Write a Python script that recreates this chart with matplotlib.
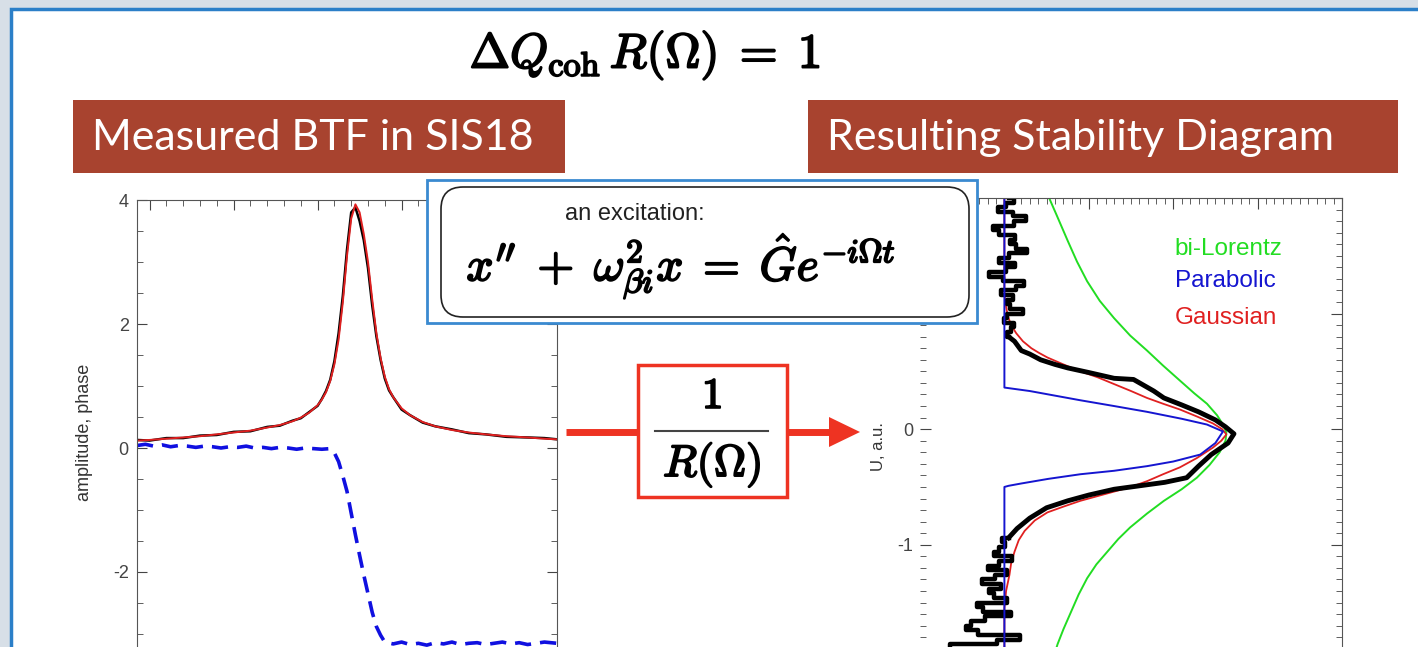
import matplotlib
matplotlib.use("Agg")
import matplotlib.pyplot as plt
import matplotlib.patheffects as pe
from matplotlib.patches import Rectangle, FancyBboxPatch, Polygon
from matplotlib.ticker import MultipleLocator

plt.rcParams['mathtext.fontset'] = 'cm'
plt.rcParams['font.family'] = ['Liberation Sans', 'DejaVu Sans']
plt.rcParams['axes.unicode_minus'] = False

# ---- left panel: measured BTF (amplitude + phase) ----
amp_x = [-3, 0, 4, 8, 12, 16, 20, 24, 28, 31, 34, 36, 38, 40, 41, 42, 43, 44, 45, 46,
         47, 48, 49, 50, 51, 52, 53, 54, 55, 56, 57, 58, 60, 62, 65, 68, 72, 76, 80, 85,
         90, 94, 97]
amp_fit = [0.12, 0.13, 0.15, 0.17, 0.19, 0.22, 0.25, 0.28, 0.33, 0.37, 0.43, 0.49, 0.57, 0.69,
           0.78, 0.9, 1.08, 1.35, 1.75, 2.35, 3.1, 3.7, 3.93, 3.8, 3.45, 3.0, 2.4, 1.85, 1.45,
           1.15, 0.95, 0.82, 0.64, 0.53, 0.42, 0.35, 0.29, 0.25, 0.22, 0.19, 0.17, 0.15, 0.14]
amp_meas = [0.13, 0.12, 0.16, 0.16, 0.2, 0.21, 0.26, 0.27, 0.34, 0.36, 0.44, 0.48, 0.58, 0.68,
            0.79, 0.92, 1.1, 1.4, 1.85, 2.45, 3.2, 3.8, 3.88, 3.66, 3.35, 2.9, 2.3, 1.8, 1.42,
            1.12, 0.93, 0.82, 0.62, 0.53, 0.41, 0.35, 0.3, 0.24, 0.22, 0.18, 0.17, 0.16, 0.14]
ph_x = [-3, -1, 1, 3, 5, 7, 9, 11, 13, 15, 17, 19, 21, 23, 25, 27, 29, 31, 33, 35,
        37, 39, 41, 43, 44, 45, 46, 47, 48, 49, 50, 51, 52, 53, 54, 55, 56, 58, 60, 62,
        64, 66, 68, 70, 72, 74, 76, 78, 80, 82, 84, 86, 88, 90, 92, 94, 97]
ph_y = [0.04, 0.06, 0.03, 0.05, 0.02, 0.04, 0.03, 0.01, 0.03, 0.02, 0.0, 0.02, 0.01, 0.03,
        0.0, 0.01, -0.01, 0.01, 0.0, -0.02, 0.0, -0.01, -0.02, -0.01, -0.08, -0.22, -0.45,
        -0.7, -1.05, -1.4, -1.73, -2.05, -2.35, -2.65, -2.88, -3.02, -3.13, -3.16, -3.13,
        -3.17, -3.15, -3.18, -3.14, -3.16, -3.13, -3.17, -3.15, -3.14, -3.17, -3.15, -3.13,
        -3.16, -3.14, -3.17, -3.15, -3.13, -3.15]

# ---- right panel: stability diagram ----
par_x = [0, 0, 0.05, 0.3, 0.9, 1.3, 1.69, 2.1, 2.4, 2.59, 2.5, 2.32, 2.0, 1.69, 1.3, 0.9,
         0.52, 0.2, 0.05, 0, 0]
par_y = [2.0, 0.36, 0.355, 0.33, 0.25, 0.2, 0.15, 0.09, 0.04, -0.02, -0.12, -0.22, -0.28,
         -0.32, -0.36, -0.39, -0.43, -0.47, -0.49, -0.5, -2.3]
gau_x = [0, 0, 0.01, 0.04, 0.08, 0.14, 0.22, 0.32, 0.41, 0.51, 0.7, 0.9, 1.1, 1.3, 1.5, 1.69,
         1.88, 2.08, 2.28, 2.47, 2.58, 2.63, 2.57, 2.47, 2.28, 2.08, 1.88, 1.69, 1.5, 1.3, 1.1,
         0.9, 0.7, 0.51, 0.36, 0.24, 0.17, 0.12, 0.08, 0.06, 0.04, 0.02, 0.01, 0, 0]
gau_y = [2.0, 1.2, 1.1, 0.98, 0.9, 0.83, 0.76, 0.70, 0.66, 0.62, 0.56, 0.50, 0.45, 0.39, 0.33,
         0.27, 0.22, 0.17, 0.11, 0.05, 0.0, -0.045, -0.1, -0.16, -0.25, -0.33, -0.39, -0.45,
         -0.5, -0.54, -0.58, -0.62, -0.67, -0.72, -0.79, -0.88, -0.96, -1.06, -1.16, -1.26,
         -1.33, -1.4, -1.48, -1.55, -2.3]
lor_x = [0.53, 0.62, 0.75, 0.86, 0.98, 1.13, 1.3, 1.49, 1.69, 1.88, 2.08, 2.25, 2.4, 2.52, 2.59,
         2.63, 2.62, 2.55, 2.43, 2.28, 2.1, 1.89, 1.69, 1.49, 1.35, 1.22, 1.09, 0.98, 0.88, 0.79,
         0.7, 0.63, 0.57, 0.53]
lor_y = [2.0, 1.85, 1.63, 1.45, 1.28, 1.11, 0.96, 0.81, 0.68, 0.55, 0.42, 0.31, 0.22, 0.12, 0.04,
         -0.03, -0.1, -0.2, -0.31, -0.42, -0.52, -0.62, -0.73, -0.85, -0.95, -1.06, -1.17, -1.29,
         -1.43, -1.58, -1.73, -1.86, -2.0, -2.1]
# measured stability diagram: noisy top tail, smooth core, noisy bottom tail
top_x = [0.05, 0.18, -0.15, 0.0, 0.2, 0.3, -0.08, -0.2, 0.08, 0.18, -0.05, 0.32, 0.22, -0.12,
         0.0, 0.25, -0.22, -0.15, 0.12, 0.35, -0.08, 0.0, 0.2, -0.15, 0.28, 0.15, -0.08, 0.08,
         0.15, 0.0, 0.05]
top_y = [2.0, 1.96, 1.92, 1.88, 1.84, 1.8, 1.76, 1.72, 1.68, 1.64, 1.6, 1.56, 1.52, 1.48,
         1.44, 1.4, 1.36, 1.32, 1.28, 1.24, 1.2, 1.16, 1.12, 1.08, 1.04, 1.0, 0.96, 0.92,
         0.88, 0.84, 0.8]
core_x = [0.05, 0.12, 0.2, 0.3, 0.43, 0.6, 0.75, 1.0, 1.3, 1.53, 1.77, 1.89, 2.1, 2.3, 2.5,
          2.62, 2.72, 2.65, 2.45, 2.3, 2.16, 1.9, 1.6, 1.3, 1.0, 0.75, 0.5, 0.3, 0.15, 0.05]
core_y = [0.8, 0.76, 0.68, 0.65, 0.6, 0.56, 0.53, 0.49, 0.44, 0.43, 0.33, 0.27, 0.21, 0.15,
          0.08, 0.02, -0.04, -0.12, -0.22, -0.32, -0.42, -0.46, -0.49, -0.52, -0.57, -0.62,
          -0.68, -0.77, -0.86, -0.94]
bot_x = [0.05, -0.1, 0.12, -0.25, 0.0, 0.18, -0.3, -0.08, 0.15, -0.38, -0.15, 0.08, -0.45,
         0.2, -0.15, -0.5, 0.0, 0.15, -0.6, -0.2, -0.7, 0.08, 0.28, -0.45, -0.85, -0.15, 0.22,
         -0.6, -0.95, 0.15, -0.3, 0.28, -0.5, 0.0]
bot_y = [-0.94, -0.98, -1.02, -1.06, -1.1, -1.14, -1.18, -1.22, -1.26, -1.3, -1.34, -1.38,
         -1.42, -1.46, -1.5, -1.54, -1.58, -1.62, -1.66, -1.7, -1.74, -1.78, -1.82, -1.86,
         -1.9, -1.94, -1.98, -2.02, -2.06, -2.1, -2.14, -2.18, -2.22, -2.26]
curve_labels = ['bi-Lorentz', 'Parabolic', 'Gaussian']

W, H = 1418, 647
fig = plt.figure(figsize=(W / 100, H / 100), dpi=100)
fig.patch.set_facecolor('#d7dfe7')


def fbox(l, t, r, b):
    return [l / W, 1 - b / H, (r - l) / W, (b - t) / H]


bg = fig.add_axes([0, 0, 1, 1], zorder=0)
bg.set_xlim(0, W)
bg.set_ylim(H, 0)
bg.axis('off')
bg.add_patch(Rectangle((11, 9), W, H, facecolor='white', edgecolor='#2b7fc8', lw=2.5))

# left axes
axL = fig.add_axes(fbox(137, 200, 557, 665), zorder=1)
axL.set_facecolor('none')
axL.plot(amp_x, amp_meas, color='black', lw=1.8)
axL.plot(amp_x, amp_fit, color='#e02020', lw=1.4)
axL.plot(ph_x, ph_y, color='#1010e0', lw=2.6, dashes=(4.5, 2.5))
axL.set_xlim(-3, 97)
axL.set_ylim(-3.5, 4.0)
axL.set_yticks([-2, 0, 2, 4])
axL.set_yticklabels(['-2', '0', '2', '4'])
axL.xaxis.set_major_locator(MultipleLocator(20))
axL.xaxis.set_minor_locator(MultipleLocator(4))
axL.yaxis.set_minor_locator(MultipleLocator(0.5))
axL.tick_params(which='both', direction='in', top=True, right=True, bottom=False,
                labelbottom=False, colors='#444444', labelsize=13, pad=6)
axL.tick_params(which='major', length=7)
axL.tick_params(which='minor', length=4)
axL.spines['bottom'].set_visible(False)
for s in axL.spines.values():
    s.set_color('#555555')
axL.set_ylabel('amplitude, phase', fontsize=13, color='#333333', labelpad=14)

# right axes
axR = fig.add_axes(fbox(920, 198, 1342, 695), zorder=1)
axR.set_facecolor('none')
axR.plot(lor_x, lor_y, color='#22dd22', lw=1.4)
axR.plot(gau_x, gau_y, color='#e02020', lw=1.3)
axR.plot(top_x, top_y, color='black', lw=3.2, drawstyle='steps-mid')
axR.plot(core_x, core_y, color='black', lw=3.5)
axR.plot(bot_x, bot_y, color='black', lw=3.2, drawstyle='steps-mid')
axR.plot(par_x, par_y, color='#1515d0', lw=1.4)
axR.set_xlim(-1, 4)
axR.set_ylim(-2.3, 2.0)
axR.set_yticks([-2, -1, 0, 1, 2])
axR.set_yticklabels(['-2', '-1', '0', '1', '2'])
axR.xaxis.set_major_locator(MultipleLocator(1))
axR.xaxis.set_minor_locator(MultipleLocator(0.1))
axR.yaxis.set_minor_locator(MultipleLocator(0.1))
axR.tick_params(which='both', direction='in', top=True, right=True, bottom=False,
                labelbottom=False, colors='#444444', labelsize=13, pad=5)
axR.tick_params(which='major', length=8)
axR.tick_params(which='minor', length=4)
axR.spines['bottom'].set_visible(False)
axR.spines['left'].set_visible(False)
for s in axR.spines.values():
    s.set_color('#555555')
axR.set_ylabel('U, a.u.', fontsize=12, color='#333333', labelpad=8)
for lab, col, yy in zip(curve_labels, ['#22dd22', '#1515d0', '#e02020'], [1.56, 1.28, 0.96]):
    axR.text(2.02, yy, lab, color=col, fontsize=17.5, va='center', ha='left')

# overlay: slide decorations
ov = fig.add_axes([0, 0, 1, 1], zorder=3)
ov.set_xlim(0, W)
ov.set_ylim(H, 0)
ov.axis('off')
ov.patch.set_alpha(0)

bold = [pe.withStroke(linewidth=1.4, foreground='black')]
ov.text(645, 55, r'$\Delta Q_{\mathrm{coh}}\, R(\Omega)\;=\;1$', fontsize=35, ha='center',
        va='center', path_effects=bold)

for (l, r, txt) in [(73, 565, 'Measured BTF in SIS18'), (808, 1398, 'Resulting Stability Diagram')]:
    ov.add_patch(Rectangle((l, 100), r - l, 73, facecolor='#a8432f', edgecolor='none'))
    ov.text(l + 19, 138, txt, color='white', fontsize=31, family='Lato', va='center', ha='left')

# excitation box
ov.add_patch(Rectangle((427, 180), 550, 143, facecolor='white', edgecolor='#3a8ad0', lw=2))
ov.add_patch(FancyBboxPatch((441, 187), 528, 130, boxstyle='round,pad=0,rounding_size=22',
                            facecolor='white', edgecolor='#222222', lw=1.2))
ov.text(635, 214, 'an excitation:', fontsize=17, ha='center', va='center', color='#222222')
ov.text(681, 266,
        r'$x^{\prime\prime}\;+\;\omega_{\beta i}^{2} x\;=\;\hat{G} e^{-i\Omega t}$',
        fontsize=34, ha='center', va='center', path_effects=bold)

# 1/R(Omega) block with arrows
red = '#ee3322'
ov.plot([566, 637], [432, 432], color=red, lw=5, solid_capstyle='butt')
ov.plot([787, 832], [432, 432], color=red, lw=5, solid_capstyle='butt')
ov.add_patch(Polygon([(829, 417), (860, 432), (829, 447)], closed=True, facecolor=red,
                     edgecolor='none'))
ov.add_patch(Rectangle((638, 365), 149, 132, facecolor='white', edgecolor=red, lw=2.5))
ov.text(712, 397, r'$1$', fontsize=31, ha='center', va='center', path_effects=bold)
ov.plot([655, 768], [431, 431], color='#444444', lw=1.5)
ov.text(712, 465, r'$R(\Omega)$', fontsize=32, ha='center', va='center', path_effects=bold)

fig.savefig('out.png', dpi=100, facecolor=fig.get_facecolor())
